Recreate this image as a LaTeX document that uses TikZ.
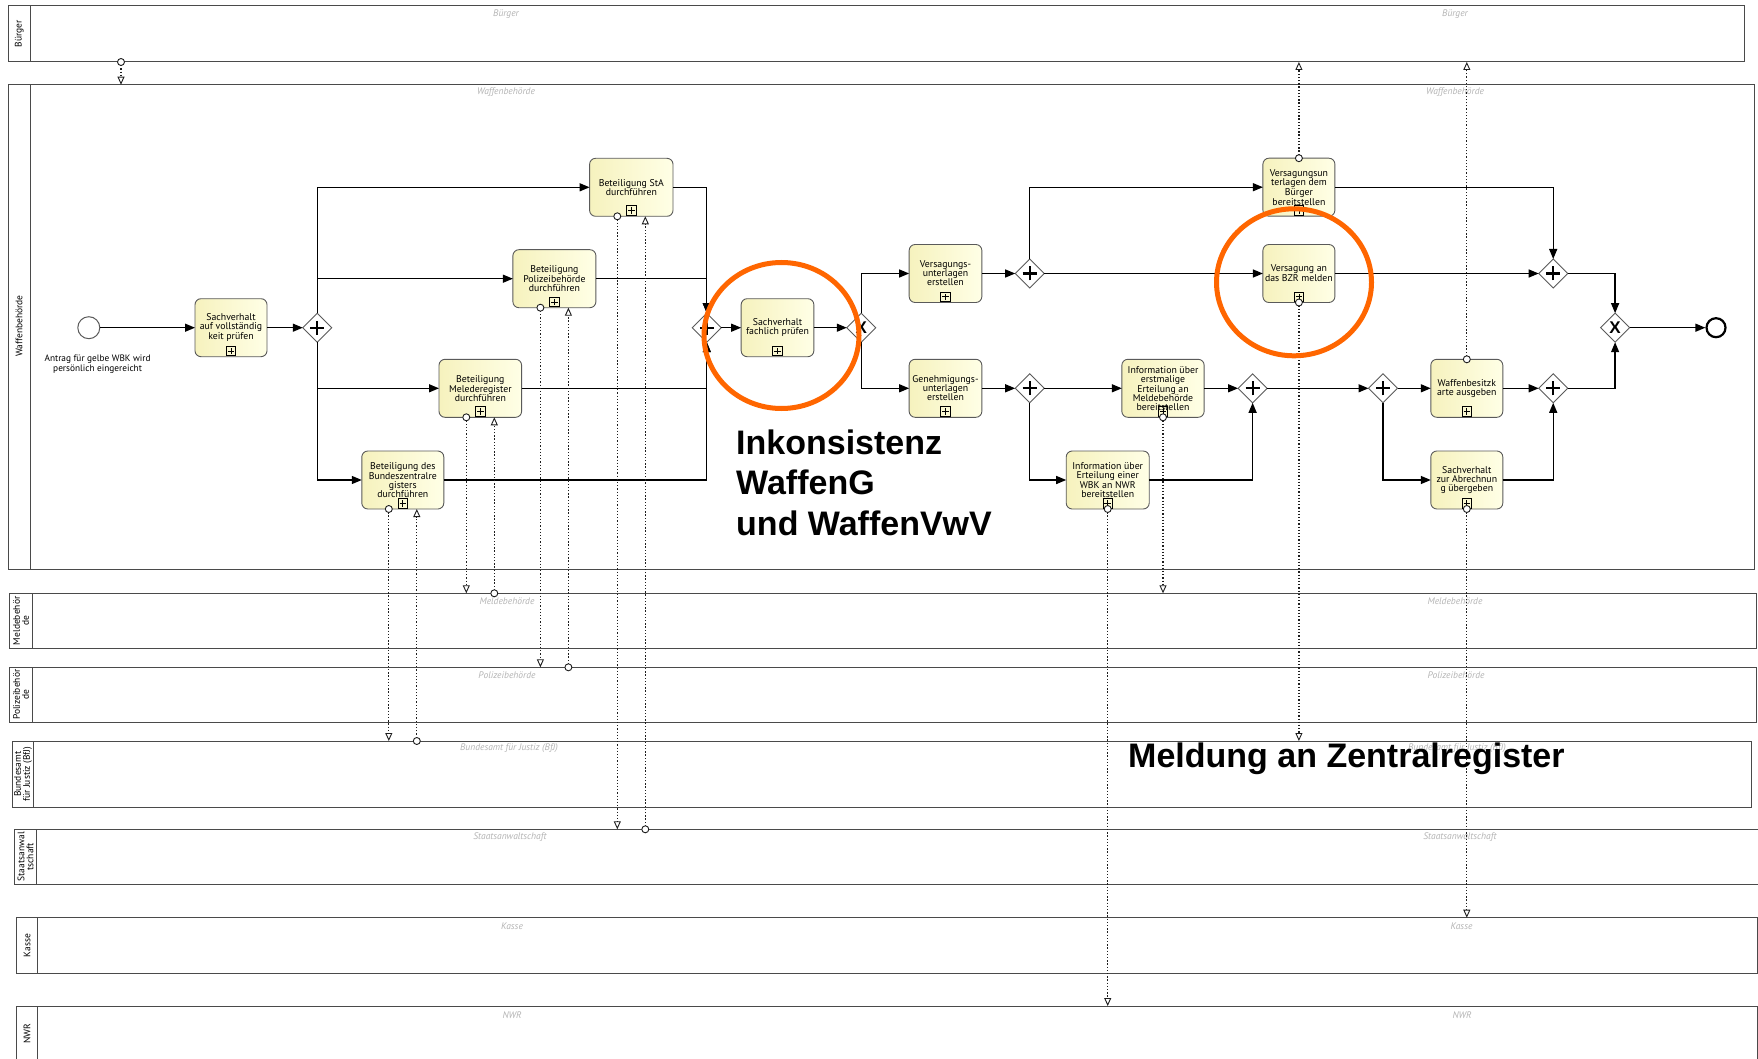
\documentclass[tikz,border=0pt]{standalone}
\usepackage{fontspec}
\setmainfont{PT Sans}
\newfontfamily\bigfont{Liberation Sans}
\usetikzlibrary{arrows.meta,shapes.geometric,calc}
\definecolor{poolc}{HTML}{4A4A4A}
\definecolor{taskb}{HTML}{5A5A5A}
\definecolor{tasklight}{HTML}{FFFFE6}
\definecolor{taskdark}{HTML}{F6F2BE}
\definecolor{lanegray}{HTML}{B4B4B4}
\definecolor{orangec}{HTML}{FF6600}
\definecolor{msgcol}{HTML}{1E1E1E}
\tikzset{
  pool/.style={draw=poolc, line width=1pt, rectangle, inner sep=0pt, outer sep=0pt, anchor=north west},
  colline/.style={draw=poolc, line width=1pt},
  poollab/.style={rotate=90, align=center, font=\fontsize{9.5}{9}\selectfont, inner sep=0pt},
  lanename/.style={text=lanegray, font=\fontsize{9.5}{10}\selectfont\itshape, inner sep=0pt},
  task/.style={rectangle, rounded corners=6pt, draw=taskb, line width=0.9pt,
    left color=taskdark, right color=tasklight, minimum width=#1, minimum height=58pt,
    align=center, inner sep=1pt, outer sep=0pt, font=\fontsize{9.8}{9}\selectfont},
  task/.default=72pt,
  gw/.style={diamond, draw=taskb, fill=white, line width=0.9pt, minimum width=29pt,
    minimum height=29pt, inner sep=0pt, outer sep=0pt},
  pgw/.style={gw, path picture={
    \draw[black, line width=2.2pt]
      ([xshift=-7pt]path picture bounding box.center) -- ([xshift=7pt]path picture bounding box.center)
      ([yshift=-7pt]path picture bounding box.center) -- ([yshift=7pt]path picture bounding box.center);}},
  xgw/.style={gw, font=\bigfont\bfseries\fontsize{17}{17}\selectfont},
  seq/.style={draw=black, line width=1.3pt, -{Triangle[length=10pt,width=8pt]}},
  msg/.style={draw=msgcol, line width=1.3pt, dash pattern=on 1.3pt off 1.9pt,
    -{Triangle[open, length=8pt, width=7pt, line width=0.9pt]}},
  mcirc/.style={circle, draw=msgcol, fill=white, line width=0.9pt, minimum size=7pt, inner sep=0pt},
  submk/.style={draw=black, line width=0.8pt, sharp corners},
  orng/.style={ellipse, draw=orangec, line width=5pt, inner sep=0pt},
  bigtxt/.style={font=\bigfont\bfseries\fontsize{34}{40.5}\selectfont, inner sep=0pt, align=left, anchor=north west},
}
\newcommand\subpm[1]{%
  \draw[submk] ([xshift=-4.75pt,yshift=1pt]#1.south) rectangle ([xshift=4.75pt,yshift=10.5pt]#1.south);
  \draw[submk] ([yshift=2.5pt]#1.south) -- ([yshift=9pt]#1.south);
  \draw[submk] ([xshift=-3.25pt,yshift=5.75pt]#1.south) -- ([xshift=3.25pt,yshift=5.75pt]#1.south);}
\begin{document}
\begin{tikzpicture}[x=1pt,y=-1pt]
\clip (0,0) rectangle (1758,1059);
\fill[white] (0,0) rectangle (1758,1059);
% ---------- pools ----------
\node[pool, minimum width=1736.2pt, minimum height=56pt] (pBuerger) at (8.4,6) {};
\node[pool, minimum width=1746.3pt, minimum height=484.6pt] (pWaffen) at (8.4,84.7) {};
\node[pool, minimum width=1746.6pt, minimum height=55pt] (pMelde) at (9.8,593.3) {};
\node[pool, minimum width=1746.6pt, minimum height=55pt] (pPol) at (9.8,667.3) {};
\node[pool, minimum width=1739.1pt, minimum height=66.3pt] (pBund) at (12.5,741) {};
\node[pool, minimum width=1748pt, minimum height=55pt] (pStA) at (14.7,829.3) {};
\node[pool, minimum width=1740.9pt, minimum height=55.6pt] (pKasse) at (16.1,917.7) {};
\node[pool, minimum width=1740.9pt, minimum height=60pt] (pNWR) at (16.1,1006) {};
\draw[colline] ([xshift=21.6pt]pBuerger.north west) -- ([xshift=21.6pt]pBuerger.south west);
\draw[colline] ([xshift=21.6pt]pWaffen.north west) -- ([xshift=21.6pt]pWaffen.south west);
\draw[colline] ([xshift=22.3pt]pMelde.north west) -- ([xshift=22.3pt]pMelde.south west);
\draw[colline] ([xshift=22.3pt]pPol.north west) -- ([xshift=22.3pt]pPol.south west);
\draw[colline] ([xshift=21pt]pBund.north west) -- ([xshift=21pt]pBund.south west);
\draw[colline] ([xshift=21.9pt]pStA.north west) -- ([xshift=21.9pt]pStA.south west);
\draw[colline] ([xshift=21.8pt]pKasse.north west) -- ([xshift=21.8pt]pKasse.south west);
\draw[colline] ([xshift=21.8pt]pNWR.north west) -- ([xshift=21.8pt]pNWR.south west);
% pool labels
\node[poollab] (lBuerger) at (19.2,34) {Bürger};
\node[poollab] (lWaffen) at (19.2,326) {Waffenbehörde};
\node[poollab] (lMelde) at (21,620.8) {Meldebehör\\de};
\node[poollab] (lPol) at (21,694.8) {Polizeibehör\\de};
\node[poollab] (lBund) at (23,774.2) {Bundesamt\\für Justiz (BfJ)};
\node[poollab] (lStA) at (25.6,856.8) {Staatsanwal\\tschaft};
\node[poollab] (lKasse) at (27,945.5) {Kasse};
\node[poollab] (lNWR) at (27,1033.5) {NWR};
% lane names (gray)
\node[lanename] (n1) at (506,14) {Bürger};
\node[lanename] (n2) at (1455,14) {Bürger};
\node[lanename] (n3) at (506,92.3) {Waffenbehörde};
\node[lanename] (n4) at (1455,92.3) {Waffenbehörde};
\node[lanename] (n5) at (507,601) {Meldebehörde};
\node[lanename] (n6) at (1455,601) {Meldebehörde};
\node[lanename] (n7) at (507,675) {Polizeibehörde};
\node[lanename] (n8) at (1456,675) {Polizeibehörde};
\node[lanename] (n9) at (509,748.5) {Bundesamt für Justiz (BfJ)};
\node[lanename] (n10) at (1457,748.5) {Bundesamt für Justiz (BfJ)};
\node[lanename] (n11) at (510,837) {Staatsanwaltschaft};
\node[lanename] (n12) at (1460,837) {Staatsanwaltschaft};
\node[lanename] (n13) at (512,926) {Kasse};
\node[lanename] (n14) at (1461.5,926) {Kasse};
\node[lanename] (n15) at (512,1015) {NWR};
\node[lanename] (n16) at (1462,1015) {NWR};
% ---------- events ----------
\node[circle, draw=taskb, fill=white, line width=1pt, minimum size=22pt, inner sep=0pt] (start) at (88.8,327.7) {};
\node[font=\fontsize{9.3}{8.5}\selectfont, align=center, inner sep=0pt] (startlab) at (97.6,364) {Antrag für gelbe WBK wird\\persönlich eingereicht};
\node[circle, draw=black, fill=white, line width=2.2pt, minimum size=19pt, inner sep=0pt] (endev) at (1716,327.7) {};
% ---------- tasks ----------
\node[task] (t1) at (231,327.7) {Sachverhalt\\auf vollständig\\keit prüfen};
\node[task=82pt] (tBZR) at (402.8,480) {Beteiligung des\\Bundeszentralre\\gisters\\durchführen};
\node[task=82.6pt] (tMR) at (480.3,388.3) {Beteiligung\\Melederegister\\durchführen};
\node[task=83pt] (tPol) at (554.4,278.7) {Beteiligung\\Polizeibehörde\\durchführen};
\node[task=83.4pt] (tStA) at (631.3,187.3) {Beteiligung StA\\durchführen};
\node[task=72.7pt] (tFach) at (777.5,327.7) {Sachverhalt\\fachlich prüfen};
\node[task=72.7pt] (tVU) at (945.5,273.5) {Versagungs-\\unterlagen\\erstellen};
\node[task=72.7pt] (tGU) at (945.5,388.3) {Genehmigungs-\\unterlagen\\erstellen};
\node[task] (tVUB) at (1298.9,187.2) {Versagungsun\\terlagen dem\\Bürger\\bereitstellen};
\node[task] (tBZRm) at (1298.9,273.5) {Versagung an\\das BZR melden};
\node[task=82.3pt] (tInfoM) at (1163,388.3) {Information über\\erstmalige\\Erteilung an\\Meldebehörde\\bereitstellen};
\node[task=83pt] (tInfoN) at (1107.7,480) {Information über\\Erteilung einer\\WBK an NWR\\bereitstellen};
\node[task] (tWBK) at (1466.8,388.3) {Waffenbesitzk\\arte ausgeben};
\node[task] (tAbr) at (1466.8,480) {Sachverhalt\\zur Abrechnun\\g übergeben};
\foreach \t in {t1,tBZR,tMR,tPol,tStA,tFach,tVU,tGU,tVUB,tBZRm,tInfoM,tInfoN,tWBK,tAbr}{\subpm{\t}}
% ---------- gateways ----------
\node[pgw] (g1) at (317.3,327.7) {};
\node[pgw] (g2) at (706.8,327.7) {};
\node[xgw] (g3) at (861.3,327.7) {X};
\node[pgw] (g4) at (1029.7,273.5) {};
\node[pgw] (g5) at (1029.7,388.3) {};
\node[pgw] (g6) at (1252.6,388.3) {};
\node[pgw] (g7) at (1383,388.3) {};
\node[pgw] (g8) at (1553.2,388.3) {};
\node[pgw] (g9) at (1553.2,273.5) {};
\node[xgw] (g10) at (1615.1,327.7) {X};
% ---------- sequence flows ----------
\draw[seq] (start) -- (t1);
\draw[seq] (t1) -- (g1);
\draw[seq] (g1.north) |- (tStA.west);
\draw[seq] (g1.north) |- (tPol.west);
\draw[seq] (g1.south) |- (tMR.west);
\draw[seq] (g1.south) |- (tBZR.west);
\draw[seq] (tStA.east) -| (g2.north);
\draw[seq] (tPol.east) -| (g2.north);
\draw[seq] (tMR.east) -| (g2.south);
\draw[seq] (tBZR.east) -| (g2.south);
\draw[seq] (g2) -- (tFach);
\draw[seq] (tFach) -- (g3);
\draw[seq] (g3.north) |- (tVU.west);
\draw[seq] (g3.south) |- (tGU.west);
\draw[seq] (tVU) -- (g4);
\draw[seq] (g4.north) |- (tVUB.west);
\draw[seq] (g4) -- (tBZRm);
\draw[seq] (tVUB.east) -| (g9.north);
\draw[seq] (tBZRm) -- (g9);
\draw[seq] (g9.east) -| (g10.north);
\draw[seq] (tGU) -- (g5);
\draw[seq] (g5) -- (tInfoM);
\draw[seq] (g5.south) |- (tInfoN.west);
\draw[seq] (tInfoM) -- (g6);
\draw[seq] (tInfoN.east) -| (g6.south);
\draw[seq] (g6) -- (g7);
\draw[seq] (g7) -- (tWBK);
\draw[seq] (g7.south) |- (tAbr.west);
\draw[seq] (tWBK) -- (g8);
\draw[seq] (tAbr.east) -| (g8.south);
\draw[seq] (g8.east) -| (g10.south);
\draw[seq] (g10) -- (endev);
% ---------- message flows ----------
\coordinate (mB) at ([xshift=112.6pt]pBuerger.south west);
\draw[msg] (mB) -- (mB |- pWaffen.north);
\node[mcirc] (cB) at (mB) {};
\coordinate (bzrA) at ([xshift=-14pt]tBZR.south);
\coordinate (bzrB) at ([xshift=14pt]tBZR.south);
\draw[msg] (bzrA) -- (bzrA |- pBund.north);
\draw[msg] (bzrB |- pBund.north) -- (bzrB);
\node[mcirc] (cbzrA) at (bzrA) {};
\node[mcirc] (cbzrB) at (bzrB |- pBund.north) {};
\coordinate (mrA) at ([xshift=-14pt]tMR.south);
\coordinate (mrB) at ([xshift=14pt]tMR.south);
\draw[msg] (mrA) -- (mrA |- pMelde.north);
\draw[msg] (mrB |- pMelde.north) -- (mrB);
\node[mcirc] (cmrA) at (mrA) {};
\node[mcirc] (cmrB) at (mrB |- pMelde.north) {};
\coordinate (polA) at ([xshift=-14pt]tPol.south);
\coordinate (polB) at ([xshift=14pt]tPol.south);
\draw[msg] (polA) -- (polA |- pPol.north);
\draw[msg] (polB |- pPol.north) -- (polB);
\node[mcirc] (cpolA) at (polA) {};
\node[mcirc] (cpolB) at (polB |- pPol.north) {};
\coordinate (staA) at ([xshift=-14pt]tStA.south);
\coordinate (staB) at ([xshift=14pt]tStA.south);
\draw[msg] (staA) -- (staA |- pStA.north);
\draw[msg] (staB |- pStA.north) -- (staB);
\node[mcirc] (cstaA) at (staA) {};
\node[mcirc] (cstaB) at (staB |- pStA.north) {};
\draw[msg] (tVUB.north) -- (tVUB.north |- pBuerger.south);
\node[mcirc] (cvub) at (tVUB.north) {};
\draw[msg] (tBZRm.south) -- (tBZRm.south |- pBund.north);
\node[mcirc] (cbzrm) at (tBZRm.south) {};
\draw[msg] (tInfoM.south) -- (tInfoM.south |- pMelde.north);
\node[mcirc] (cinfom) at (tInfoM.south) {};
\draw[msg] (tInfoN.south) -- (tInfoN.south |- pNWR.north);
\node[mcirc] (cinfon) at (tInfoN.south) {};
\draw[msg] (tWBK.north) -- (tWBK.north |- pBuerger.south);
\node[mcirc] (cwbk) at (tWBK.north) {};
\draw[msg] (tAbr.south) -- (tAbr.south |- pKasse.north);
\node[mcirc] (cabr) at (tAbr.south) {};
% ---------- annotations ----------
\node[orng, minimum width=155pt, minimum height=146pt] (oc1) at (781.5,335.5) {};
\node[orng, minimum width=155pt, minimum height=147pt] (oc2) at (1294,282.3) {};
\node[bigtxt] (txtInk) at (736,429.5) {Inkonsistenz\\WaffenG\\und WaffenVwV};
\node[bigtxt] (txtMeld) at (1128,742.3) {Meldung an Zentralregister};
\end{tikzpicture}
\end{document}
